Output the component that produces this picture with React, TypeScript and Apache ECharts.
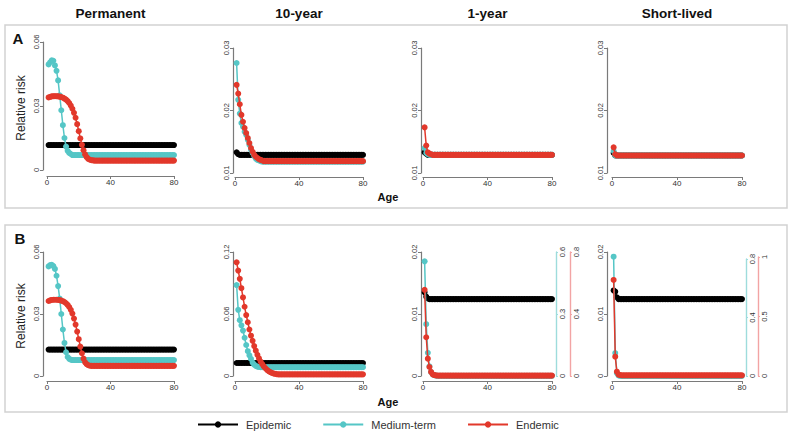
import React, { useEffect, useRef } from "react";
import * as echarts from "echarts";

// ---------- DATA ----------
const ages = [
  1, 2, 3, 4, 5, 6, 7, 8, 9, 10,
  11, 12, 13, 14, 15, 16, 17, 18, 19, 20,
  21, 22, 23, 24, 25, 26, 27, 28, 29, 30,
  31, 32, 33, 34, 35, 36, 37, 38, 39, 40,
  41, 42, 43, 44, 45, 46, 47, 48, 49, 50,
  51, 52, 53, 54, 55, 56, 57, 58, 59, 60,
  61, 62, 63, 64, 65, 66, 67, 68, 69, 70,
  71, 72, 73, 74, 75, 76, 77, 78, 79, 80,
];

const columnTitles = ["Permanent", "10-year", "1-year", "Short-lived"];
const seriesNames = ["Epidemic", "Medium-term", "Endemic"];

// Panel A — Permanent
const aPermEpidemic = [
  0.0117, 0.0117, 0.0117, 0.0117, 0.0117, 0.0117, 0.0117, 0.0117, 0.0117, 0.0117,
  0.0117, 0.0117, 0.0117, 0.0117, 0.0117, 0.0117, 0.0117, 0.0117, 0.0117, 0.0117,
  0.0117, 0.0117, 0.0117, 0.0117, 0.0117, 0.0117, 0.0117, 0.0117, 0.0117, 0.0117,
  0.0117, 0.0117, 0.0117, 0.0117, 0.0117, 0.0117, 0.0117, 0.0117, 0.0117, 0.0117,
  0.0117, 0.0117, 0.0117, 0.0117, 0.0117, 0.0117, 0.0117, 0.0117, 0.0117, 0.0117,
  0.0117, 0.0117, 0.0117, 0.0117, 0.0117, 0.0117, 0.0117, 0.0117, 0.0117, 0.0117,
  0.0117, 0.0117, 0.0117, 0.0117, 0.0117, 0.0117, 0.0117, 0.0117, 0.0117, 0.0117,
  0.0117, 0.0117, 0.0117, 0.0117, 0.0117, 0.0117, 0.0117, 0.0117, 0.0117, 0.0117,
];
const aPermMedium = [
  0.0495, 0.0505, 0.0514, 0.0512, 0.049, 0.0465, 0.042, 0.035, 0.028, 0.021,
  0.015, 0.011, 0.009, 0.008, 0.0075, 0.007, 0.007, 0.007, 0.007, 0.007,
  0.007, 0.007, 0.007, 0.007, 0.007, 0.007, 0.007, 0.007, 0.007, 0.007,
  0.007, 0.007, 0.007, 0.007, 0.007, 0.007, 0.007, 0.007, 0.007, 0.007,
  0.007, 0.007, 0.007, 0.007, 0.007, 0.007, 0.007, 0.007, 0.007, 0.007,
  0.007, 0.007, 0.007, 0.007, 0.007, 0.007, 0.007, 0.007, 0.007, 0.007,
  0.007, 0.007, 0.007, 0.007, 0.007, 0.007, 0.007, 0.007, 0.007, 0.007,
  0.007, 0.007, 0.007, 0.007, 0.007, 0.007, 0.007, 0.007, 0.007, 0.007,
];
const aPermEndemic = [
  0.034, 0.0343, 0.0345, 0.0346, 0.0346, 0.0346, 0.0345, 0.0344, 0.0342, 0.0339,
  0.0335, 0.033, 0.0323, 0.0314, 0.0302, 0.0287, 0.0268, 0.0245, 0.0215, 0.0182,
  0.0148, 0.0118, 0.0093, 0.0073, 0.006, 0.0052, 0.0048, 0.0046, 0.0045, 0.0044,
  0.0044, 0.0044, 0.0044, 0.0044, 0.0044, 0.0044, 0.0044, 0.0044, 0.0044, 0.0044,
  0.0044, 0.0044, 0.0044, 0.0044, 0.0044, 0.0044, 0.0044, 0.0044, 0.0044, 0.0044,
  0.0044, 0.0044, 0.0044, 0.0044, 0.0044, 0.0044, 0.0044, 0.0044, 0.0044, 0.0044,
  0.0044, 0.0044, 0.0044, 0.0044, 0.0044, 0.0044, 0.0044, 0.0044, 0.0044, 0.0044,
  0.0044, 0.0044, 0.0044, 0.0044, 0.0044, 0.0044, 0.0044, 0.0044, 0.0044, 0.0044,
];

// Panel A — 10-year
const a10Epidemic = [
  0.0133, 0.013, 0.0129, 0.0129, 0.0129, 0.0129, 0.0129, 0.0129, 0.0129, 0.0129,
  0.0129, 0.0129, 0.0129, 0.0129, 0.0129, 0.0129, 0.0129, 0.0129, 0.0129, 0.0129,
  0.0129, 0.0129, 0.0129, 0.0129, 0.0129, 0.0129, 0.0129, 0.0129, 0.0129, 0.0129,
  0.0129, 0.0129, 0.0129, 0.0129, 0.0129, 0.0129, 0.0129, 0.0129, 0.0129, 0.0129,
  0.0129, 0.0129, 0.0129, 0.0129, 0.0129, 0.0129, 0.0129, 0.0129, 0.0129, 0.0129,
  0.0129, 0.0129, 0.0129, 0.0129, 0.0129, 0.0129, 0.0129, 0.0129, 0.0129, 0.0129,
  0.0129, 0.0129, 0.0129, 0.0129, 0.0129, 0.0129, 0.0129, 0.0129, 0.0129, 0.0129,
  0.0129, 0.0129, 0.0129, 0.0129, 0.0129, 0.0129, 0.0129, 0.0129, 0.0129, 0.0129,
];
const a10Medium = [
  0.0276, 0.0217, 0.0195, 0.018, 0.0174, 0.0166, 0.0161, 0.0153, 0.0145, 0.0137,
  0.0132, 0.0127, 0.0123, 0.0121, 0.012, 0.0119, 0.0118, 0.0118, 0.0118, 0.0118,
  0.0118, 0.0118, 0.0118, 0.0118, 0.0118, 0.0118, 0.0118, 0.0118, 0.0118, 0.0118,
  0.0118, 0.0118, 0.0118, 0.0118, 0.0118, 0.0118, 0.0118, 0.0118, 0.0118, 0.0118,
  0.0118, 0.0118, 0.0118, 0.0118, 0.0118, 0.0118, 0.0118, 0.0118, 0.0118, 0.0118,
  0.0118, 0.0118, 0.0118, 0.0118, 0.0118, 0.0118, 0.0118, 0.0118, 0.0118, 0.0118,
  0.0118, 0.0118, 0.0118, 0.0118, 0.0118, 0.0118, 0.0118, 0.0118, 0.0118, 0.0118,
  0.0118, 0.0118, 0.0118, 0.0118, 0.0118, 0.0118, 0.0118, 0.0118, 0.0118, 0.0118,
];
const a10Endemic = [
  0.0241, 0.0227, 0.021, 0.0193, 0.0182, 0.0172, 0.0164, 0.0156, 0.0148, 0.014,
  0.0134, 0.0129, 0.0126, 0.0124, 0.0122, 0.0121, 0.012, 0.0119, 0.0119, 0.0119,
  0.0119, 0.0119, 0.0119, 0.0119, 0.0119, 0.0119, 0.0119, 0.0119, 0.0119, 0.0119,
  0.0119, 0.0119, 0.0119, 0.0119, 0.0119, 0.0119, 0.0119, 0.0119, 0.0119, 0.0119,
  0.0119, 0.0119, 0.0119, 0.0119, 0.0119, 0.0119, 0.0119, 0.0119, 0.0119, 0.0119,
  0.0119, 0.0119, 0.0119, 0.0119, 0.0119, 0.0119, 0.0119, 0.0119, 0.0119, 0.0119,
  0.0119, 0.0119, 0.0119, 0.0119, 0.0119, 0.0119, 0.0119, 0.0119, 0.0119, 0.0119,
  0.0119, 0.0119, 0.0119, 0.0119, 0.0119, 0.0119, 0.0119, 0.0119, 0.0119, 0.0119,
];

// Panel A — 1-year
const a1Epidemic = [
  0.0133, 0.0131, 0.0129, 0.0129, 0.0129, 0.0129, 0.0129, 0.0129, 0.0129, 0.0129,
  0.0129, 0.0129, 0.0129, 0.0129, 0.0129, 0.0129, 0.0129, 0.0129, 0.0129, 0.0129,
  0.0129, 0.0129, 0.0129, 0.0129, 0.0129, 0.0129, 0.0129, 0.0129, 0.0129, 0.0129,
  0.0129, 0.0129, 0.0129, 0.0129, 0.0129, 0.0129, 0.0129, 0.0129, 0.0129, 0.0129,
  0.0129, 0.0129, 0.0129, 0.0129, 0.0129, 0.0129, 0.0129, 0.0129, 0.0129, 0.0129,
  0.0129, 0.0129, 0.0129, 0.0129, 0.0129, 0.0129, 0.0129, 0.0129, 0.0129, 0.0129,
  0.0129, 0.0129, 0.0129, 0.0129, 0.0129, 0.0129, 0.0129, 0.0129, 0.0129, 0.0129,
  0.0129, 0.0129, 0.0129, 0.0129, 0.0129, 0.0129, 0.0129, 0.0129, 0.0129, 0.0129,
];
const a1Medium = [
  0.014, 0.0132, 0.013, 0.0129, 0.0129, 0.0129, 0.0129, 0.0129, 0.0129, 0.0129,
  0.0129, 0.0129, 0.0129, 0.0129, 0.0129, 0.0129, 0.0129, 0.0129, 0.0129, 0.0129,
  0.0129, 0.0129, 0.0129, 0.0129, 0.0129, 0.0129, 0.0129, 0.0129, 0.0129, 0.0129,
  0.0129, 0.0129, 0.0129, 0.0129, 0.0129, 0.0129, 0.0129, 0.0129, 0.0129, 0.0129,
  0.0129, 0.0129, 0.0129, 0.0129, 0.0129, 0.0129, 0.0129, 0.0129, 0.0129, 0.0129,
  0.0129, 0.0129, 0.0129, 0.0129, 0.0129, 0.0129, 0.0129, 0.0129, 0.0129, 0.0129,
  0.0129, 0.0129, 0.0129, 0.0129, 0.0129, 0.0129, 0.0129, 0.0129, 0.0129, 0.0129,
  0.0129, 0.0129, 0.0129, 0.0129, 0.0129, 0.0129, 0.0129, 0.0129, 0.0129, 0.0129,
];
const a1Endemic = [
  0.0173, 0.0144, 0.0133, 0.0131, 0.013, 0.0129, 0.0129, 0.0129, 0.0129, 0.0129,
  0.0129, 0.0129, 0.0129, 0.0129, 0.0129, 0.0129, 0.0129, 0.0129, 0.0129, 0.0129,
  0.0129, 0.0129, 0.0129, 0.0129, 0.0129, 0.0129, 0.0129, 0.0129, 0.0129, 0.0129,
  0.0129, 0.0129, 0.0129, 0.0129, 0.0129, 0.0129, 0.0129, 0.0129, 0.0129, 0.0129,
  0.0129, 0.0129, 0.0129, 0.0129, 0.0129, 0.0129, 0.0129, 0.0129, 0.0129, 0.0129,
  0.0129, 0.0129, 0.0129, 0.0129, 0.0129, 0.0129, 0.0129, 0.0129, 0.0129, 0.0129,
  0.0129, 0.0129, 0.0129, 0.0129, 0.0129, 0.0129, 0.0129, 0.0129, 0.0129, 0.0129,
  0.0129, 0.0129, 0.0129, 0.0129, 0.0129, 0.0129, 0.0129, 0.0129, 0.0129, 0.0129,
];

// Panel A — Short-lived
const aShortEpidemic = [
  0.0132, 0.0128, 0.0128, 0.0128, 0.0128, 0.0128, 0.0128, 0.0128, 0.0128, 0.0128,
  0.0128, 0.0128, 0.0128, 0.0128, 0.0128, 0.0128, 0.0128, 0.0128, 0.0128, 0.0128,
  0.0128, 0.0128, 0.0128, 0.0128, 0.0128, 0.0128, 0.0128, 0.0128, 0.0128, 0.0128,
  0.0128, 0.0128, 0.0128, 0.0128, 0.0128, 0.0128, 0.0128, 0.0128, 0.0128, 0.0128,
  0.0128, 0.0128, 0.0128, 0.0128, 0.0128, 0.0128, 0.0128, 0.0128, 0.0128, 0.0128,
  0.0128, 0.0128, 0.0128, 0.0128, 0.0128, 0.0128, 0.0128, 0.0128, 0.0128, 0.0128,
  0.0128, 0.0128, 0.0128, 0.0128, 0.0128, 0.0128, 0.0128, 0.0128, 0.0128, 0.0128,
  0.0128, 0.0128, 0.0128, 0.0128, 0.0128, 0.0128, 0.0128, 0.0128, 0.0128, 0.0128,
];
const aShortMedium = [
  0.0135, 0.0128, 0.0128, 0.0128, 0.0128, 0.0128, 0.0128, 0.0128, 0.0128, 0.0128,
  0.0128, 0.0128, 0.0128, 0.0128, 0.0128, 0.0128, 0.0128, 0.0128, 0.0128, 0.0128,
  0.0128, 0.0128, 0.0128, 0.0128, 0.0128, 0.0128, 0.0128, 0.0128, 0.0128, 0.0128,
  0.0128, 0.0128, 0.0128, 0.0128, 0.0128, 0.0128, 0.0128, 0.0128, 0.0128, 0.0128,
  0.0128, 0.0128, 0.0128, 0.0128, 0.0128, 0.0128, 0.0128, 0.0128, 0.0128, 0.0128,
  0.0128, 0.0128, 0.0128, 0.0128, 0.0128, 0.0128, 0.0128, 0.0128, 0.0128, 0.0128,
  0.0128, 0.0128, 0.0128, 0.0128, 0.0128, 0.0128, 0.0128, 0.0128, 0.0128, 0.0128,
  0.0128, 0.0128, 0.0128, 0.0128, 0.0128, 0.0128, 0.0128, 0.0128, 0.0128, 0.0128,
];
const aShortEndemic = [
  0.0141, 0.013, 0.0128, 0.0128, 0.0128, 0.0128, 0.0128, 0.0128, 0.0128, 0.0128,
  0.0128, 0.0128, 0.0128, 0.0128, 0.0128, 0.0128, 0.0128, 0.0128, 0.0128, 0.0128,
  0.0128, 0.0128, 0.0128, 0.0128, 0.0128, 0.0128, 0.0128, 0.0128, 0.0128, 0.0128,
  0.0128, 0.0128, 0.0128, 0.0128, 0.0128, 0.0128, 0.0128, 0.0128, 0.0128, 0.0128,
  0.0128, 0.0128, 0.0128, 0.0128, 0.0128, 0.0128, 0.0128, 0.0128, 0.0128, 0.0128,
  0.0128, 0.0128, 0.0128, 0.0128, 0.0128, 0.0128, 0.0128, 0.0128, 0.0128, 0.0128,
  0.0128, 0.0128, 0.0128, 0.0128, 0.0128, 0.0128, 0.0128, 0.0128, 0.0128, 0.0128,
  0.0128, 0.0128, 0.0128, 0.0128, 0.0128, 0.0128, 0.0128, 0.0128, 0.0128, 0.0128,
];

// Panel B — Permanent
const bPermEpidemic = [
  0.0128, 0.0128, 0.0128, 0.0128, 0.0128, 0.0128, 0.0128, 0.0128, 0.0128, 0.0128,
  0.0128, 0.0128, 0.0128, 0.0128, 0.0128, 0.0128, 0.0128, 0.0128, 0.0128, 0.0128,
  0.0128, 0.0128, 0.0128, 0.0128, 0.0128, 0.0128, 0.0128, 0.0128, 0.0128, 0.0128,
  0.0128, 0.0128, 0.0128, 0.0128, 0.0128, 0.0128, 0.0128, 0.0128, 0.0128, 0.0128,
  0.0128, 0.0128, 0.0128, 0.0128, 0.0128, 0.0128, 0.0128, 0.0128, 0.0128, 0.0128,
  0.0128, 0.0128, 0.0128, 0.0128, 0.0128, 0.0128, 0.0128, 0.0128, 0.0128, 0.0128,
  0.0128, 0.0128, 0.0128, 0.0128, 0.0128, 0.0128, 0.0128, 0.0128, 0.0128, 0.0128,
  0.0128, 0.0128, 0.0128, 0.0128, 0.0128, 0.0128, 0.0128, 0.0128, 0.0128, 0.0128,
];
const bPermMedium = [
  0.053, 0.0537, 0.0538, 0.0532, 0.0518, 0.0485, 0.0435, 0.0375, 0.03, 0.0225,
  0.016, 0.0115, 0.0092, 0.0083, 0.0079, 0.0077, 0.0077, 0.0077, 0.0077, 0.0077,
  0.0077, 0.0077, 0.0077, 0.0077, 0.0077, 0.0077, 0.0077, 0.0077, 0.0077, 0.0077,
  0.0077, 0.0077, 0.0077, 0.0077, 0.0077, 0.0077, 0.0077, 0.0077, 0.0077, 0.0077,
  0.0077, 0.0077, 0.0077, 0.0077, 0.0077, 0.0077, 0.0077, 0.0077, 0.0077, 0.0077,
  0.0077, 0.0077, 0.0077, 0.0077, 0.0077, 0.0077, 0.0077, 0.0077, 0.0077, 0.0077,
  0.0077, 0.0077, 0.0077, 0.0077, 0.0077, 0.0077, 0.0077, 0.0077, 0.0077, 0.0077,
  0.0077, 0.0077, 0.0077, 0.0077, 0.0077, 0.0077, 0.0077, 0.0077, 0.0077, 0.0077,
];
const bPermEndemic = [
  0.0363, 0.0366, 0.0368, 0.0369, 0.0369, 0.0369, 0.0368, 0.0367, 0.0365, 0.0362,
  0.0358, 0.0352, 0.0344, 0.0334, 0.032, 0.0302, 0.0278, 0.0249, 0.0215, 0.0178,
  0.0142, 0.011, 0.0084, 0.0066, 0.0057, 0.0052, 0.005, 0.0049, 0.0049, 0.0049,
  0.0049, 0.0049, 0.0049, 0.0049, 0.0049, 0.0049, 0.0049, 0.0049, 0.0049, 0.0049,
  0.0049, 0.0049, 0.0049, 0.0049, 0.0049, 0.0049, 0.0049, 0.0049, 0.0049, 0.0049,
  0.0049, 0.0049, 0.0049, 0.0049, 0.0049, 0.0049, 0.0049, 0.0049, 0.0049, 0.0049,
  0.0049, 0.0049, 0.0049, 0.0049, 0.0049, 0.0049, 0.0049, 0.0049, 0.0049, 0.0049,
  0.0049, 0.0049, 0.0049, 0.0049, 0.0049, 0.0049, 0.0049, 0.0049, 0.0049, 0.0049,
];

// Panel B — 10-year
const b10Epidemic = [
  0.0126, 0.0126, 0.0126, 0.0126, 0.0126, 0.0126, 0.0126, 0.0126, 0.0126, 0.0126,
  0.0126, 0.0126, 0.0126, 0.0126, 0.0126, 0.0126, 0.0126, 0.0126, 0.0126, 0.0126,
  0.0126, 0.0126, 0.0126, 0.0126, 0.0126, 0.0126, 0.0126, 0.0126, 0.0126, 0.0126,
  0.0126, 0.0126, 0.0126, 0.0126, 0.0126, 0.0126, 0.0126, 0.0126, 0.0126, 0.0126,
  0.0126, 0.0126, 0.0126, 0.0126, 0.0126, 0.0126, 0.0126, 0.0126, 0.0126, 0.0126,
  0.0126, 0.0126, 0.0126, 0.0126, 0.0126, 0.0126, 0.0126, 0.0126, 0.0126, 0.0126,
  0.0126, 0.0126, 0.0126, 0.0126, 0.0126, 0.0126, 0.0126, 0.0126, 0.0126, 0.0126,
  0.0126, 0.0126, 0.0126, 0.0126, 0.0126, 0.0126, 0.0126, 0.0126, 0.0126, 0.0126,
];
const b10Medium = [
  0.088, 0.064, 0.054, 0.049, 0.044, 0.037, 0.03, 0.024, 0.02, 0.0165,
  0.013, 0.011, 0.0098, 0.009, 0.0087, 0.0085, 0.0085, 0.0085, 0.0085, 0.0085,
  0.0085, 0.0085, 0.0085, 0.0085, 0.0085, 0.0085, 0.0085, 0.0085, 0.0085, 0.0085,
  0.0085, 0.0085, 0.0085, 0.0085, 0.0085, 0.0085, 0.0085, 0.0085, 0.0085, 0.0085,
  0.0085, 0.0085, 0.0085, 0.0085, 0.0085, 0.0085, 0.0085, 0.0085, 0.0085, 0.0085,
  0.0085, 0.0085, 0.0085, 0.0085, 0.0085, 0.0085, 0.0085, 0.0085, 0.0085, 0.0085,
  0.0085, 0.0085, 0.0085, 0.0085, 0.0085, 0.0085, 0.0085, 0.0085, 0.0085, 0.0085,
  0.0085, 0.0085, 0.0085, 0.0085, 0.0085, 0.0085, 0.0085, 0.0085, 0.0085, 0.0085,
];
const b10Endemic = [
  0.11, 0.102, 0.094, 0.085, 0.076, 0.067, 0.059, 0.052, 0.045, 0.039,
  0.034, 0.029, 0.0245, 0.0205, 0.017, 0.014, 0.0115, 0.0093, 0.0075, 0.006,
  0.0048, 0.0038, 0.0031, 0.0025, 0.0021, 0.0018, 0.0016, 0.0016, 0.0016, 0.0016,
  0.0016, 0.0016, 0.0016, 0.0016, 0.0016, 0.0016, 0.0016, 0.0016, 0.0016, 0.0016,
  0.0016, 0.0016, 0.0016, 0.0016, 0.0016, 0.0016, 0.0016, 0.0016, 0.0016, 0.0016,
  0.0016, 0.0016, 0.0016, 0.0016, 0.0016, 0.0016, 0.0016, 0.0016, 0.0016, 0.0016,
  0.0016, 0.0016, 0.0016, 0.0016, 0.0016, 0.0016, 0.0016, 0.0016, 0.0016, 0.0016,
  0.0016, 0.0016, 0.0016, 0.0016, 0.0016, 0.0016, 0.0016, 0.0016, 0.0016, 0.0016,
];

// Panel B — 1-year (medium-term and endemic on their own right axes)
const b1Epidemic = [
  0.0135, 0.0128, 0.0125, 0.0124, 0.0124, 0.0124, 0.0124, 0.0124, 0.0124, 0.0124,
  0.0124, 0.0124, 0.0124, 0.0124, 0.0124, 0.0124, 0.0124, 0.0124, 0.0124, 0.0124,
  0.0124, 0.0124, 0.0124, 0.0124, 0.0124, 0.0124, 0.0124, 0.0124, 0.0124, 0.0124,
  0.0124, 0.0124, 0.0124, 0.0124, 0.0124, 0.0124, 0.0124, 0.0124, 0.0124, 0.0124,
  0.0124, 0.0124, 0.0124, 0.0124, 0.0124, 0.0124, 0.0124, 0.0124, 0.0124, 0.0124,
  0.0124, 0.0124, 0.0124, 0.0124, 0.0124, 0.0124, 0.0124, 0.0124, 0.0124, 0.0124,
  0.0124, 0.0124, 0.0124, 0.0124, 0.0124, 0.0124, 0.0124, 0.0124, 0.0124, 0.0124,
  0.0124, 0.0124, 0.0124, 0.0124, 0.0124, 0.0124, 0.0124, 0.0124, 0.0124, 0.0124,
];
const b1Medium = [
  0.555, 0.251, 0.112, 0.047, 0.019, 0.008, 0.004, 0.002, 0.001, 0.001,
  0.001, 0.001, 0.001, 0.001, 0.001, 0.001, 0.001, 0.001, 0.001, 0.001,
  0.001, 0.001, 0.001, 0.001, 0.001, 0.001, 0.001, 0.001, 0.001, 0.001,
  0.001, 0.001, 0.001, 0.001, 0.001, 0.001, 0.001, 0.001, 0.001, 0.001,
  0.001, 0.001, 0.001, 0.001, 0.001, 0.001, 0.001, 0.001, 0.001, 0.001,
  0.001, 0.001, 0.001, 0.001, 0.001, 0.001, 0.001, 0.001, 0.001, 0.001,
  0.001, 0.001, 0.001, 0.001, 0.001, 0.001, 0.001, 0.001, 0.001, 0.001,
  0.001, 0.001, 0.001, 0.001, 0.001, 0.001, 0.001, 0.001, 0.001, 0.001,
];
const b1Endemic = [
  0.556, 0.25, 0.112, 0.058, 0.026, 0.011, 0.006, 0.004, 0.003, 0.003,
  0.003, 0.003, 0.003, 0.003, 0.003, 0.003, 0.003, 0.003, 0.003, 0.003,
  0.003, 0.003, 0.003, 0.003, 0.003, 0.003, 0.003, 0.003, 0.003, 0.003,
  0.003, 0.003, 0.003, 0.003, 0.003, 0.003, 0.003, 0.003, 0.003, 0.003,
  0.003, 0.003, 0.003, 0.003, 0.003, 0.003, 0.003, 0.003, 0.003, 0.003,
  0.003, 0.003, 0.003, 0.003, 0.003, 0.003, 0.003, 0.003, 0.003, 0.003,
  0.003, 0.003, 0.003, 0.003, 0.003, 0.003, 0.003, 0.003, 0.003, 0.003,
  0.003, 0.003, 0.003, 0.003, 0.003, 0.003, 0.003, 0.003, 0.003, 0.003,
];

// Panel B — Short-lived (medium-term and endemic on their own right axes)
const bShortEpidemic = [
  0.0138, 0.0136, 0.0127, 0.0124, 0.0124, 0.0124, 0.0124, 0.0124, 0.0124, 0.0124,
  0.0124, 0.0124, 0.0124, 0.0124, 0.0124, 0.0124, 0.0124, 0.0124, 0.0124, 0.0124,
  0.0124, 0.0124, 0.0124, 0.0124, 0.0124, 0.0124, 0.0124, 0.0124, 0.0124, 0.0124,
  0.0124, 0.0124, 0.0124, 0.0124, 0.0124, 0.0124, 0.0124, 0.0124, 0.0124, 0.0124,
  0.0124, 0.0124, 0.0124, 0.0124, 0.0124, 0.0124, 0.0124, 0.0124, 0.0124, 0.0124,
  0.0124, 0.0124, 0.0124, 0.0124, 0.0124, 0.0124, 0.0124, 0.0124, 0.0124, 0.0124,
  0.0124, 0.0124, 0.0124, 0.0124, 0.0124, 0.0124, 0.0124, 0.0124, 0.0124, 0.0124,
  0.0124, 0.0124, 0.0124, 0.0124, 0.0124, 0.0124, 0.0124, 0.0124, 0.0124, 0.0124,
];
const bShortMedium = [
  0.816, 0.157, 0.02, 0.004, 0.001, 0.001, 0.001, 0.001, 0.001, 0.001,
  0.001, 0.001, 0.001, 0.001, 0.001, 0.001, 0.001, 0.001, 0.001, 0.001,
  0.001, 0.001, 0.001, 0.001, 0.001, 0.001, 0.001, 0.001, 0.001, 0.001,
  0.001, 0.001, 0.001, 0.001, 0.001, 0.001, 0.001, 0.001, 0.001, 0.001,
  0.001, 0.001, 0.001, 0.001, 0.001, 0.001, 0.001, 0.001, 0.001, 0.001,
  0.001, 0.001, 0.001, 0.001, 0.001, 0.001, 0.001, 0.001, 0.001, 0.001,
  0.001, 0.001, 0.001, 0.001, 0.001, 0.001, 0.001, 0.001, 0.001, 0.001,
  0.001, 0.001, 0.001, 0.001, 0.001, 0.001, 0.001, 0.001, 0.001, 0.001,
];
const bShortEndemic = [
  0.807, 0.162, 0.036, 0.012, 0.008, 0.006, 0.006, 0.006, 0.006, 0.006,
  0.006, 0.006, 0.006, 0.006, 0.006, 0.006, 0.006, 0.006, 0.006, 0.006,
  0.006, 0.006, 0.006, 0.006, 0.006, 0.006, 0.006, 0.006, 0.006, 0.006,
  0.006, 0.006, 0.006, 0.006, 0.006, 0.006, 0.006, 0.006, 0.006, 0.006,
  0.006, 0.006, 0.006, 0.006, 0.006, 0.006, 0.006, 0.006, 0.006, 0.006,
  0.006, 0.006, 0.006, 0.006, 0.006, 0.006, 0.006, 0.006, 0.006, 0.006,
  0.006, 0.006, 0.006, 0.006, 0.006, 0.006, 0.006, 0.006, 0.006, 0.006,
  0.006, 0.006, 0.006, 0.006, 0.006, 0.006, 0.006, 0.006, 0.006, 0.006,
];

// ---------- STYLE / LAYOUT ----------
const FONT = "'Liberation Sans', Arial, Helvetica, sans-serif";
const COLORS = ["#000000", "#55c6c6", "#e2382b"];
const AXIS_GRAY = "#7a7a7a";
const RIGHT_AXIS_COLORS = ["#9edcdc", "#f2a4a4"];

const columns = [
  { left: 47, right: 174, yOff: 4 },
  { left: 235, right: 363, yOff: 2 },
  { left: 423, right: 552, yOff: 2 },
  { left: 612, right: 742, yOff: 5 },
];

type Panel = {
  col: number;
  top: number;
  bottom: number;
  xOff: number;
  yMin: number;
  yMax: number;
  yInt: number;
  data: number[][];
  right?: { top: number; max: number; interval: number; offset: number }[];
};

const panels: Panel[] = [
  { col: 0, top: 42, bottom: 170, xOff: 6, yMin: 0, yMax: 0.06, yInt: 0.03, data: [aPermEpidemic, aPermMedium, aPermEndemic] },
  { col: 1, top: 48, bottom: 173, xOff: 4, yMin: 0.01, yMax: 0.03, yInt: 0.01, data: [a10Epidemic, a10Medium, a10Endemic] },
  { col: 2, top: 48, bottom: 173, xOff: 4, yMin: 0.01, yMax: 0.03, yInt: 0.01, data: [a1Epidemic, a1Medium, a1Endemic] },
  { col: 3, top: 48, bottom: 173, xOff: 4, yMin: 0.01, yMax: 0.03, yInt: 0.01, data: [aShortEpidemic, aShortMedium, aShortEndemic] },
  { col: 0, top: 252, bottom: 376, xOff: 5, yMin: 0, yMax: 0.06, yInt: 0.03, data: [bPermEpidemic, bPermMedium, bPermEndemic] },
  { col: 1, top: 252, bottom: 376, xOff: 5, yMin: 0, yMax: 0.12, yInt: 0.06, data: [b10Epidemic, b10Medium, b10Endemic] },
  {
    col: 2, top: 252, bottom: 376, xOff: 5, yMin: 0, yMax: 0.02, yInt: 0.01, data: [b1Epidemic, b1Medium, b1Endemic],
    right: [
      { top: 252, max: 0.6, interval: 0.3, offset: 4 },
      { top: 252, max: 0.8, interval: 0.4, offset: 18 },
    ],
  },
  {
    col: 3, top: 252, bottom: 376, xOff: 5, yMin: 0, yMax: 0.02, yInt: 0.01, data: [bShortEpidemic, bShortMedium, bShortEndemic],
    right: [
      { top: 259, max: 0.8, interval: 0.4, offset: 4 },
      { top: 257, max: 1, interval: 0.5, offset: 16 },
    ],
  },
];

function buildOption() {
  const grid: any[] = [];
  const xAxis: any[] = [];
  const yAxis: any[] = [];
  const series: any[] = [];

  const xLabelStyle = { fontSize: 8, color: "#333", fontFamily: FONT };
  const yLabelStyle = { fontSize: 7.5, color: "#333", fontFamily: FONT };

  panels.forEach((p) => {
    const c = columns[p.col];
    const makeGrid = (top: number, showX: boolean) => {
      const gi = grid.length;
      grid.push({ left: c.left, width: c.right - c.left, top, height: p.bottom - top, containLabel: false });
      xAxis.push({
        gridIndex: gi,
        type: "value",
        min: 0,
        max: 80,
        interval: 40,
        show: showX,
        offset: p.xOff,
        axisLine: { show: true, onZero: false, lineStyle: { color: AXIS_GRAY, width: 1.2 } },
        axisTick: { show: true, length: 3, lineStyle: { color: AXIS_GRAY, width: 1 } },
        axisLabel: { ...xLabelStyle, margin: 2.5 },
        splitLine: { show: false },
      });
      return gi;
    };

    const gMain = makeGrid(p.top, true);
    const yMainIdx = yAxis.length;
    yAxis.push({
      gridIndex: gMain,
      type: "value",
      position: "left",
      min: p.yMin,
      max: p.yMax,
      interval: p.yInt,
      offset: c.yOff,
      axisLine: { show: true, onZero: false, lineStyle: { color: AXIS_GRAY, width: 1.2 } },
      axisTick: { show: true, length: 3, lineStyle: { color: AXIS_GRAY, width: 1 } },
      axisLabel: { ...yLabelStyle, rotate: 90, margin: 3 },
      splitLine: { show: false },
    });

    const targets: { x: number; y: number }[] = [
      { x: gMain, y: yMainIdx },
      { x: gMain, y: yMainIdx },
      { x: gMain, y: yMainIdx },
    ];

    if (p.right) {
      p.right.forEach((r, k) => {
        const g = makeGrid(r.top, false);
        const yi = yAxis.length;
        yAxis.push({
          gridIndex: g,
          type: "value",
          position: "right",
          min: 0,
          max: r.max,
          interval: r.interval,
          offset: r.offset,
          axisLine: { show: true, onZero: false, lineStyle: { color: RIGHT_AXIS_COLORS[k], width: 1.4 } },
          axisTick: { show: true, length: 2, lineStyle: { color: RIGHT_AXIS_COLORS[k] } },
          axisLabel: { ...yLabelStyle, rotate: 90, margin: 2 },
          splitLine: { show: false },
        });
        targets[k + 1] = { x: g, y: yi };
      });
    }

    p.data.forEach((vals, s) => {
      series.push({
        type: "line",
        name: seriesNames[s],
        xAxisIndex: targets[s].x,
        yAxisIndex: targets[s].y,
        data: ages.map((a, i) => [a, vals[i]]),
        symbol: "circle",
        symbolSize: 6,
        showSymbol: true,
        clip: false,
        silent: true,
        z: 2 + s,
        lineStyle: { color: COLORS[s], width: 1.5 },
        itemStyle: { color: COLORS[s], borderWidth: 0 },
      });
    });
  });

  const graphic: any[] = [
    { type: "rect", shape: { x: 5, y: 25, width: 782, height: 183 }, style: { fill: "none", stroke: "#d2d2d2", lineWidth: 1.5 } },
    { type: "rect", shape: { x: 5, y: 225, width: 782, height: 187 }, style: { fill: "none", stroke: "#d2d2d2", lineWidth: 1.5 } },
    ...columnTitles.map((t, i) => ({
      type: "text",
      x: (columns[i].left + columns[i].right) / 2,
      y: 13,
      style: { text: t, fontSize: 13.5, fontWeight: "bold", fill: "#111", fontFamily: FONT, align: "center", verticalAlign: "middle" },
    })),
    { type: "text", x: 18, y: 38, style: { text: "A", fontSize: 15, fontWeight: "bold", fill: "#111", fontFamily: FONT, align: "center", verticalAlign: "middle" } },
    { type: "text", x: 20, y: 238, style: { text: "B", fontSize: 15, fontWeight: "bold", fill: "#111", fontFamily: FONT, align: "center", verticalAlign: "middle" } },
    { type: "text", x: 21, y: 108, rotation: Math.PI / 2, style: { text: "Relative risk", fontSize: 12, fill: "#222", fontFamily: FONT, align: "center", verticalAlign: "middle" } },
    { type: "text", x: 21, y: 316, rotation: Math.PI / 2, style: { text: "Relative risk", fontSize: 12, fill: "#222", fontFamily: FONT, align: "center", verticalAlign: "middle" } },
    { type: "text", x: 388, y: 197, style: { text: "Age", fontSize: 11, fontWeight: "bold", fill: "#111", fontFamily: FONT, align: "center", verticalAlign: "middle" } },
    { type: "text", x: 388, y: 402, style: { text: "Age", fontSize: 11, fontWeight: "bold", fill: "#111", fontFamily: FONT, align: "center", verticalAlign: "middle" } },
  ];

  return {
    animation: false,
    backgroundColor: "#ffffff",
    grid,
    xAxis,
    yAxis,
    series,
    graphic,
    legend: {
      data: seriesNames,
      left: 197,
      top: 419,
      padding: 0,
      itemWidth: 40,
      itemHeight: 8,
      itemGap: 31,
      selectedMode: false,
      textStyle: { fontSize: 11, color: "#333", fontFamily: FONT, padding: [0, 0, 0, 3] },
    },
  };
}

export default function App() {
  const ref = useRef<HTMLDivElement>(null);
  useEffect(() => {
    if (!ref.current) return;
    const chart = echarts.init(ref.current, undefined, { renderer: "svg" });
    chart.setOption(buildOption() as any);
    return () => chart.dispose();
  }, []);
  return <div ref={ref} style={{ position: "absolute", left: 0, top: 0, width: 800, height: 444 }} />;
}
